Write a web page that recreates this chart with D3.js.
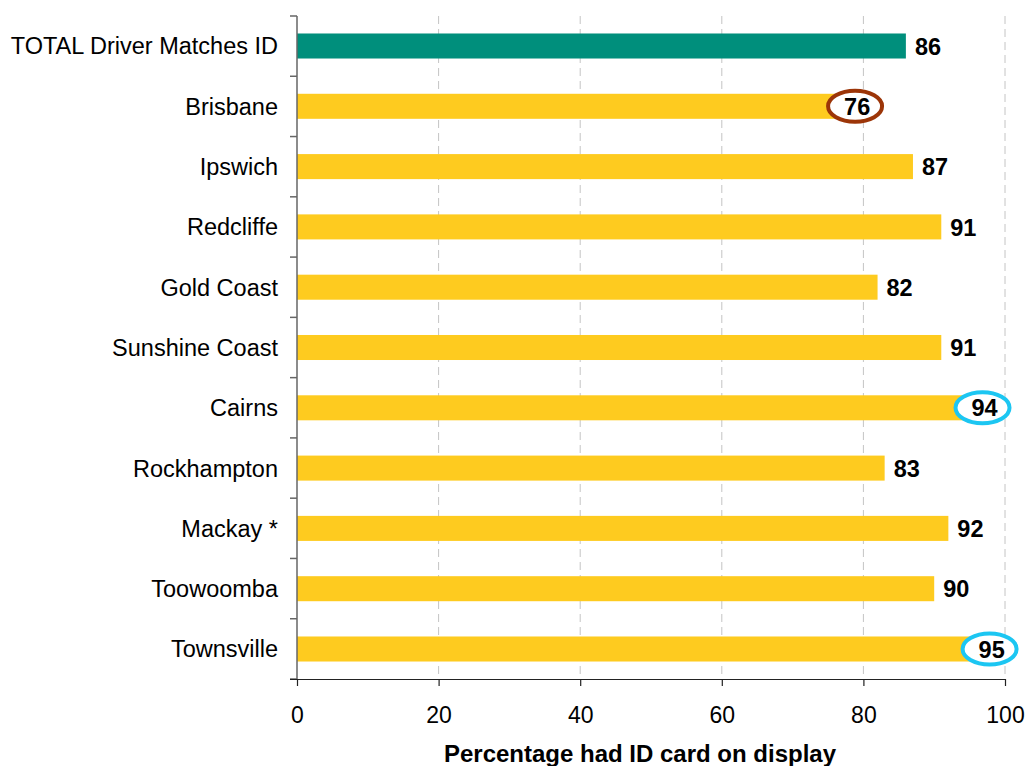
<!DOCTYPE html>
<html>
<head>
<meta charset="utf-8">
<script src="https://cdn.jsdelivr.net/npm/d3@7"></script>
<style>
  html, body { margin: 0; padding: 0; background: #fff; }
  svg { display: block; font-family: "Liberation Sans", Arial, sans-serif; }
</style>
</head>
<body>
<svg id="chart" width="1030" height="766"></svg>
<script>
// Share of drivers displaying their ID card, by region
const categories = ["TOTAL Driver Matches ID", "Brisbane", "Ipswich", "Redcliffe", "Gold Coast",
  "Sunshine Coast", "Cairns", "Rockhampton", "Mackay *", "Toowoomba", "Townsville"];
const values = [86, 76, 87, 91, 82, 91, 94, 83, 92, 90, 95];
// "low" / "high" results get a ring round their label
const highlights = [null, "low", null, null, null, null, "high", null, null, null, "high"];
const xTicks = [0, 20, 40, 60, 80, 100];
const xTitle = "Percentage had ID card on display";

const svg = d3.select("#chart");
const plotLeft = 297, plotRight = 1005, plotTop = 16, plotBottom = 679;

const x = d3.scaleLinear().domain([0, 100]).range([plotLeft, plotRight]);
const y = d3.scaleBand().domain(categories).range([plotTop, plotBottom]).paddingInner(0.585).paddingOuter(0.29);

const colors = { total: "#008f7c", region: "#fecb1f", low: "#9c3508", high: "#1cc6f2" };

// dashed vertical gridlines
svg.append("g").selectAll("line")
  .data(xTicks.filter(d => d > 0))
  .join("line")
  .attr("x1", d => x(d)).attr("x2", d => x(d))
  .attr("y1", plotTop).attr("y2", plotBottom)
  .attr("stroke", "#c4c4c4").attr("stroke-width", 1)
  .attr("stroke-dasharray", "8,5");

// bars
svg.append("g").selectAll("rect")
  .data(categories)
  .join("rect")
  .attr("x", x(0))
  .attr("y", d => y(d))
  .attr("width", (d, i) => x(values[i]) - x(0))
  .attr("height", y.bandwidth())
  .attr("fill", (d, i) => i === 0 ? colors.total : colors.region);

// rings round notable results
svg.append("g").selectAll("ellipse")
  .data(categories.filter((d, i) => highlights[i]))
  .join("ellipse")
  .attr("cx", d => x(values[categories.indexOf(d)]) + 20)
  .attr("cy", d => y(d) + y.bandwidth() / 2)
  .attr("rx", 27).attr("ry", 15.5)
  .attr("fill", "#fff")
  .attr("stroke", d => colors[highlights[categories.indexOf(d)]])
  .attr("stroke-width", 4);

// value labels
svg.append("g").selectAll("text")
  .data(categories)
  .join("text")
  .attr("x", (d, i) => x(values[i]) + 9)
  .attr("y", d => y(d) + y.bandwidth() / 2)
  .attr("dy", "0.37em")
  .attr("font-size", 23.5).attr("font-weight", "bold").attr("fill", "#000")
  .text((d, i) => values[i]);

// y axis: line, boundary ticks and category names
const yAxis = svg.append("g");
yAxis.append("line")
  .attr("x1", plotLeft).attr("x2", plotLeft).attr("y1", plotTop).attr("y2", plotBottom)
  .attr("stroke", "#666").attr("stroke-width", 1.5);
const bounds = d3.range(categories.length + 1).map(i => plotTop + i * (plotBottom - plotTop) / categories.length);
yAxis.selectAll("line.tick")
  .data(bounds)
  .join("line").attr("class", "tick")
  .attr("x1", plotLeft - 7).attr("x2", plotLeft)
  .attr("y1", d => d).attr("y2", d => d)
  .attr("stroke", "#666").attr("stroke-width", 1.5);
yAxis.selectAll("text")
  .data(categories)
  .join("text")
  .attr("x", plotLeft - 19)
  .attr("y", d => y(d) + y.bandwidth() / 2)
  .attr("dy", "0.36em")
  .attr("text-anchor", "end")
  .attr("font-size", 23.5).attr("fill", "#000")
  .text(d => d);

// x axis
const xAxis = svg.append("g").attr("transform", `translate(0,${plotBottom})`)
  .call(d3.axisBottom(x).tickValues(xTicks).tickSize(7).tickPadding(21).tickSizeOuter(0));
xAxis.select(".domain").attr("stroke", "#222").attr("stroke-width", 1.2)
  .attr("d", `M${plotLeft - 7},0.5H${plotRight}`);
xAxis.selectAll(".tick line").attr("stroke", "#222").attr("stroke-width", 1.2);
xAxis.selectAll(".tick text").attr("font-size", 23).attr("fill", "#000")
  .attr("font-family", "Liberation Sans, Arial, sans-serif");

svg.append("text")
  .attr("x", 640).attr("y", 762)
  .attr("text-anchor", "middle")
  .attr("font-size", 24).attr("font-weight", "bold").attr("fill", "#000")
  .text(xTitle);
</script>
</body>
</html>
